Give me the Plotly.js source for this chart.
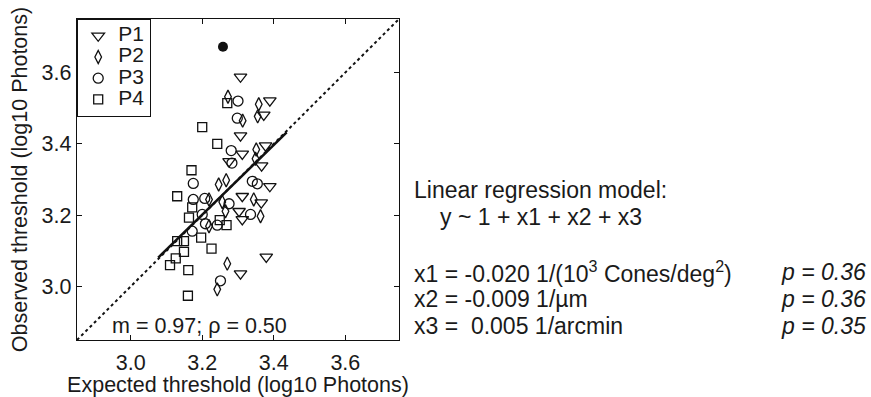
<!DOCTYPE html>
<html>
<head>
<meta charset="utf-8">
<script src="https://cdn.plot.ly/plotly-3.0.1.min.js"></script>
<style>html,body{margin:0;padding:0;background:#fff;}#chart{width:871px;height:397px;}</style>
</head>
<body>
<div id="chart"></div>
<script>
// ---- Data ----
const p1x = [3.307, 3.389, 3.372, 3.307, 3.312, 3.377, 3.275, 3.366, 3.389, 3.312, 3.365, 3.303, 3.312, 3.379, 3.307];
const p1y = [3.588, 3.521, 3.481, 3.423, 3.372, 3.395, 3.351, 3.339, 3.281, 3.253, 3.235, 3.211, 3.188, 3.083, 3.036];

const p2x = [3.272, 3.358, 3.355, 3.313, 3.351, 3.349, 3.246, 3.267, 3.219, 3.256, 3.344, 3.265, 3.363, 3.219, 3.270, 3.242];
const p2y = [3.532, 3.511, 3.477, 3.465, 3.384, 3.358, 3.286, 3.298, 3.244, 3.237, 3.244, 3.211, 3.197, 3.169, 3.064, 2.992];

const p3x = [3.300, 3.298, 3.281, 3.283, 3.175, 3.340, 3.354, 3.175, 3.207, 3.275, 3.335, 3.200, 3.209, 3.242, 3.172, 3.251];
const p3y = [3.520, 3.472, 3.381, 3.346, 3.289, 3.295, 3.288, 3.244, 3.247, 3.232, 3.202, 3.202, 3.176, 3.172, 3.155, 3.016];

const p4x = [3.270, 3.200, 3.242, 3.170, 3.130, 3.172, 3.163, 3.249, 3.268, 3.197, 3.130, 3.149, 3.226, 3.149, 3.126, 3.110, 3.161, 3.160];
const p4y = [3.514, 3.447, 3.400, 3.326, 3.253, 3.222, 3.193, 3.186, 3.172, 3.137, 3.127, 3.127, 3.106, 3.097, 3.079, 3.060, 3.046, 2.974];

const outlierX = [3.258];
const outlierY = [3.672];

const identityX = [2.85, 3.75];
const identityY = [2.85, 3.75];

const fitX = [3.077, 3.436];
const fitY = [3.081, 3.432];

const xTicks = [3.0, 3.2, 3.4, 3.6];
const yTicks = [3.0, 3.2, 3.4, 3.6];

const seriesNames = ["P1", "P2", "P3", "P4"];
const fitLabel = "m = 0.97; ρ = 0.50";
const modelTitle = "Linear regression model:";
const modelFormula = "y ~ 1 + x1 + x2 + x3";
const coefLabels = ["x1 = -0.020 1/(10<sup>3</sup> Cones/deg<sup>2</sup>)", "x2 = -0.009 1/µm", "x3 =  0.005 1/arcmin"];
const pLabels = ["<i>p = 0.36</i>", "<i>p = 0.36</i>", "<i>p = 0.35</i>"];

// ---- Layout geometry ----
const W = 871, H = 397;
const M = {l: 77, r: 472, t: 19, b: 57};
const plotW = W - M.l - M.r, plotH = H - M.t - M.b;
const px2paperX = px => (px - M.l) / plotW;
const px2paperY = py => (H - M.b - py) / plotH;

const FONT = "Liberation Sans, Arial, sans-serif";
const TXT = "#1a1a1a";
const FS = 21.5;
const FS_RIGHT = 23;

const mk = (sym, size) => ({symbol: sym, size: size, color: "#111", line: {color: "#111", width: 1.3}});
const legName = n => '<span style="font-size:21px">' + n + '</span>';

const traces = [
  {x: identityX, y: identityY, mode: "lines", line: {color: "#111", width: 2, dash: "dot"}, showlegend: false, hoverinfo: "skip"},
  {x: p1x, y: p1y, mode: "markers", name: legName(seriesNames[0]), marker: mk("triangle-down-open", 11)},
  {x: p2x, y: p2y, mode: "markers", name: legName(seriesNames[1]), marker: mk("diamond-tall-open", 9.5)},
  {x: p3x, y: p3y, mode: "markers", name: legName(seriesNames[2]), marker: mk("circle-open", 10)},
  {x: p4x, y: p4y, mode: "markers", name: legName(seriesNames[3]), marker: mk("square-open", 9)},
  {x: outlierX, y: outlierY, mode: "markers", marker: {symbol: "circle", size: 10, color: "#111"}, showlegend: false},
  {x: fitX, y: fitY, mode: "lines", line: {color: "#111", width: 2.5}, showlegend: false}
];

const axisCommon = {
  showline: true, linecolor: "#111", linewidth: 1.2, mirror: "ticks",
  ticks: "inside", ticklen: 5, tickwidth: 1, tickcolor: "#111",
  showgrid: false, zeroline: false, tickformat: ".1f",
  tickfont: {family: FONT, size: FS, color: TXT}
};

const ann = (text, px, py, size, anchor) => ({text: text, xref: "paper", yref: "paper", x: px2paperX(px), y: px2paperY(py),
  xanchor: anchor || "left", yanchor: "middle", showarrow: false, borderpad: 0, font: {family: FONT, size: size, color: TXT}});

const annotations = [
  ann(fitLabel, 199, 326, FS, "center"),
  ann(modelTitle, 413, 190, FS_RIGHT),
  ann(modelFormula, 439, 217, FS_RIGHT)
];
const rowY = [272, 299, 326];
coefLabels.forEach((t, i) => {
  annotations.push(ann(t, 413, rowY[i], FS_RIGHT));
  annotations.push(ann(pLabels[i], 780, rowY[i], FS_RIGHT));
});

const layout = {
  width: W, height: H,
  margin: M,
  paper_bgcolor: "#fff", plot_bgcolor: "#fff",
  font: {family: FONT, size: FS, color: TXT},
  xaxis: Object.assign({}, axisCommon, {range: [2.85, 3.75], tickvals: xTicks, ticklabelstandoff: 3,
    title: {text: "Expected threshold (log10 Photons)", font: {family: FONT, size: FS, color: TXT}, standoff: 0}}),
  yaxis: Object.assign({}, axisCommon, {range: [2.85, 3.75], tickvals: yTicks,
    title: {text: "Observed threshold (log10 Photons)", font: {family: FONT, size: FS, color: TXT}, standoff: 8}}),
  showlegend: true,
  legend: {x: 0, y: 1, xanchor: "left", yanchor: "top", bgcolor: "#fff", bordercolor: "#111", borderwidth: 1.2,
    font: {family: FONT, size: 14, color: TXT}, itemwidth: 30, tracegroupgap: 0},
  annotations: annotations
};

Plotly.newPlot("chart", traces, layout, {displayModeBar: false, staticPlot: true});
</script>
</body>
</html>
